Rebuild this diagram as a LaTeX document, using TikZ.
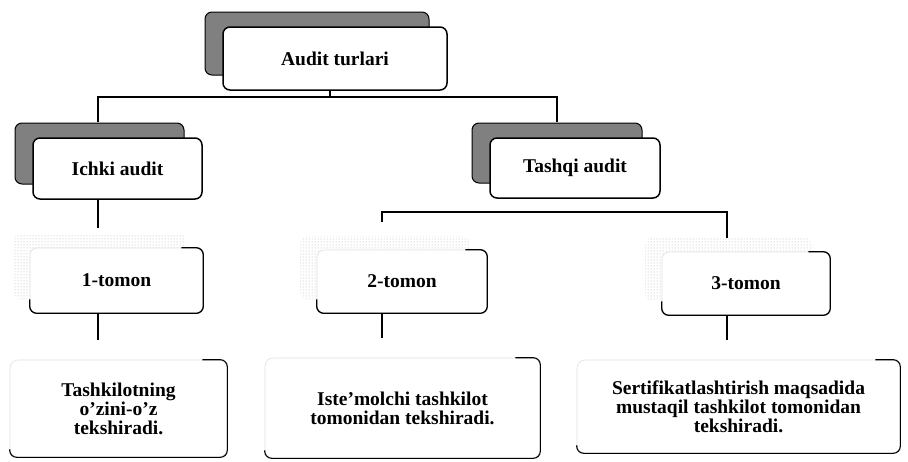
\documentclass[tikz,border=0pt]{standalone}
\usepackage{fontspec}
\setmainfont{Liberation Serif}
\usetikzlibrary{shadows,patterns}
\begin{document}
\begin{tikzpicture}[x=1pt,y=-1pt,
  txt/.style={font=\fontsize{19.5}{19}\selectfont\bfseries, align=center, inner sep=0pt},
  mainbox/.style={txt, draw=black, line width=1.5pt, rounded corners=7pt, fill=white,
    general shadow={shadow xshift=-18pt, shadow yshift=15pt, fill=black!50, draw=black, line width=1pt}},
  tombox/.style={txt, draw=black!12, line width=0.6pt, rounded corners=7pt, fill=white,
    general shadow={shadow xshift=-17pt, shadow yshift=14pt, pattern=dots, pattern color=black!30, draw=none}},
  descbox/.style={txt, draw=black!12, line width=0.6pt, rounded corners=8pt, fill=white},
  edge/.style={draw=black, line width=1.3pt, rounded corners=7pt},
  conn/.style={draw=black, line width=1.3pt}]
\useasboundingbox (0,0) rectangle (908,461);

% level 0
\node[mainbox, minimum width=224pt, minimum height=63pt] (audit) at (335,58.5) {Audit turlari};
% level 1
\node[mainbox, minimum width=169pt, minimum height=61pt] (ichki) at (117.5,168.5) {Ichki audit};
\node[mainbox, minimum width=170pt, minimum height=60pt] (tashqi) at (575,168) {Tashqi audit};
% level 2
\node[tombox, minimum width=173pt, minimum height=65pt] (t1) at (116.5,280.5) {1-tomon};
\node[tombox, minimum width=170pt, minimum height=63pt] (t2) at (402,281.5) {2-tomon};
\node[tombox, minimum width=168pt, minimum height=63pt] (t3) at (746,283.5) {3-tomon};
\foreach \n in {t1,t2,t3}
  \draw[edge] ([xshift=-22pt]\n.north east) -- (\n.north east) -- (\n.south east) -- (\n.south west) -- ([yshift=14pt]\n.south west);
% level 3
\node[descbox, minimum width=217pt, minimum height=97pt] (b1) at (118.5,408.5) {Tashkilotning\\o’zini-o’z\\tekshiradi.};
\node[descbox, minimum width=275pt, minimum height=100pt] (b2) at (402.5,408) {Iste’molchi tashkilot\\tomonidan tekshiradi.};
\node[descbox, minimum width=323pt, minimum height=93pt] (b3) at (738.5,406.5) {Sertifikatlashtirish maqsadida\\mustaqil tashkilot tomonidan\\tekshiradi.};
\foreach \n in {b1,b2,b3}
  \draw[edge, line width=1.1pt] ([xshift=-25pt]\n.north east) -- (\n.north east) -- (\n.south east) -- (\n.south west) -- ([yshift=8pt]\n.south west);

% connectors
\coordinate (j1) at (330,97);
\coordinate (ci) at (98,97);
\coordinate (ct) at (557,97);
\coordinate (c2) at (382,212);
\coordinate (c3) at (727,212);
\draw[conn] (audit.south -| j1) -- (j1);
\draw[conn] ([yshift=15pt]ichki.north -| ci) |- (j1) -| ([yshift=15pt]tashqi.north -| ct);
\draw[conn, shorten >=20pt] (ichki.south -| ci) -- (t1.north -| ci);
\draw[conn, shorten <=14pt] ([yshift=14pt]t2.north -| c2) |- (c2) -| ([yshift=14pt]t3.north -| c3);
\draw[conn, shorten >=20pt] (t1.south -| ci) -- (b1.north -| ci);
\draw[conn, shorten >=20pt] (t2.south -| c2) -- (b2.north -| c2);
\draw[conn, shorten >=20pt] (t3.south -| c3) -- (b3.north -| c3);
\end{tikzpicture}
\end{document}
